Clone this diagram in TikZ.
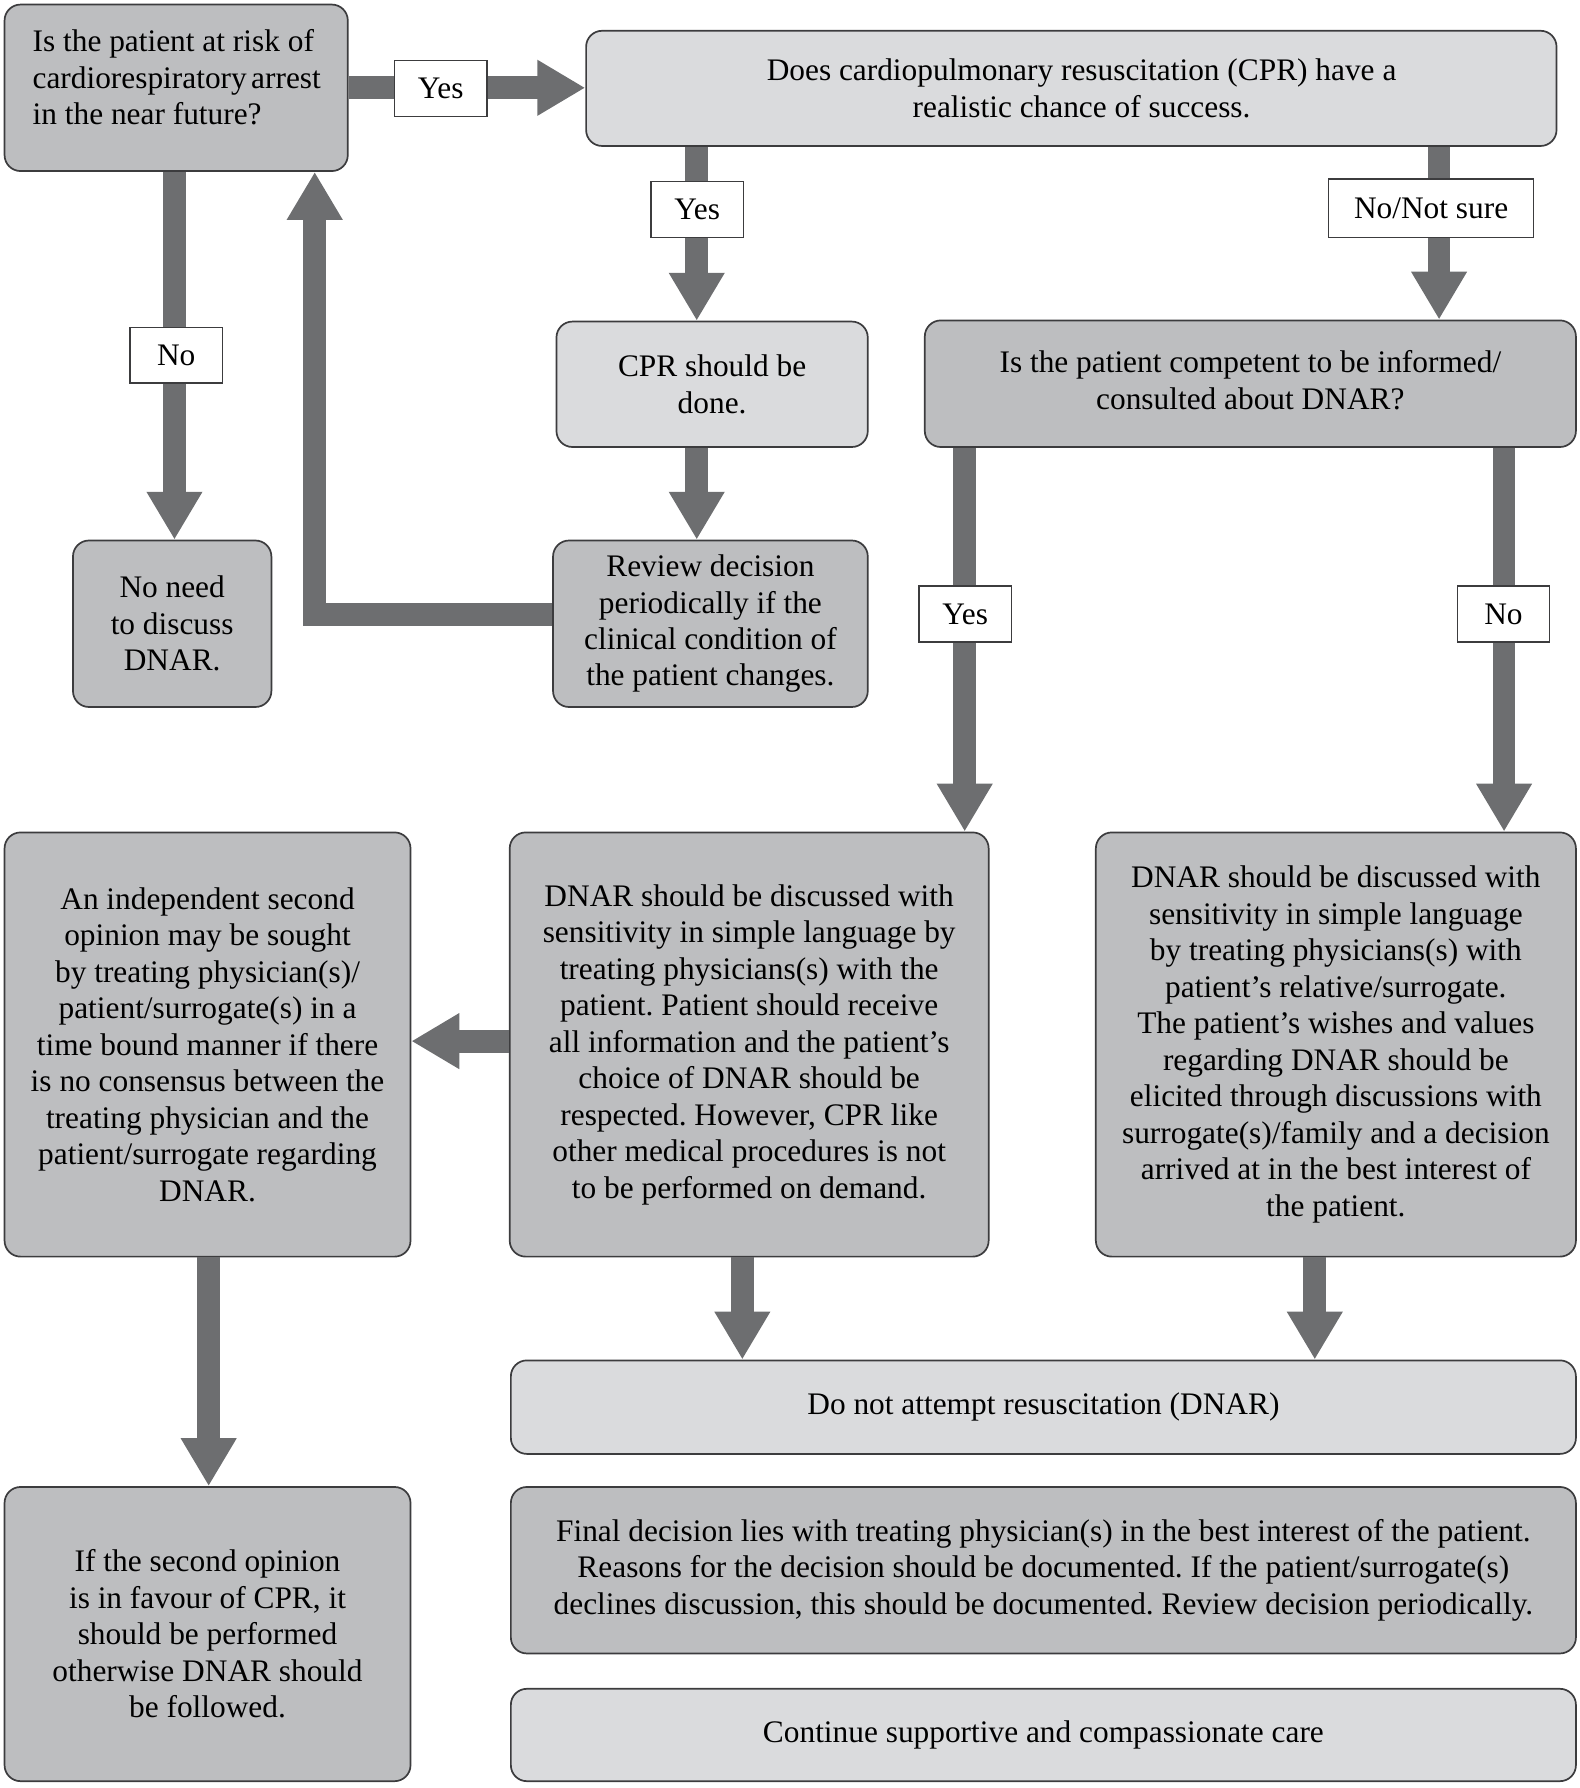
\documentclass[tikz,border=0pt]{standalone}
\usepackage{fontspec}
\setmainfont{Liberation Serif}
\usetikzlibrary{arrows.meta}
\definecolor{midgray}{RGB}{189,190,192}
\definecolor{lightgray2}{RGB}{218,219,221}
\definecolor{arrowgray}{RGB}{109,110,112}
\definecolor{edgegray}{RGB}{60,60,62}
\frenchspacing
\begin{document}
\begin{tikzpicture}[x=1pt,y=-1pt,
  txt/.style={font=\fontsize{27.5}{32}\selectfont, inner sep=0pt},
  box/.style={txt, draw=edgegray, line width=1.5pt, rounded corners=14pt, align=center},
  mid/.style={box, fill=midgray},
  light/.style={box, fill=lightgray2},
  lab/.style={txt, draw=edgegray, line width=1.2pt, fill=white, minimum width=81pt, minimum height=49pt},
  arr/.style={draw=arrowgray, line width=20pt, -{Triangle[width=46pt,length=42pt]}},
]
\useasboundingbox (0,0) rectangle (1385,1568);

% boxes
\node[mid, minimum width=301pt, minimum height=146pt] (A) at (154.5,77) {};
\node[txt, align=left] (At) at (155,68) {Is the patient at risk of\\cardiorespiratory\hspace{-3pt} arrest\\in the near future?};
\node[light, minimum width=851pt, minimum height=101pt] (B) at (939.5,77.5) {\hspace{18pt}Does cardiopulmonary resuscitation (CPR) have a\\\hspace{18pt}realistic chance of success.};
\node[light, minimum width=273pt, minimum height=110pt] (C) at (624.5,337) {CPR should be\\done.};
\node[mid, minimum width=276pt, minimum height=146pt] (D) at (623,547) {Review decision\\periodically if the\\clinical condition of\\the patient changes.};
\node[mid, minimum width=174pt, minimum height=146pt] (E) at (151,547) {No need\\to discuss\\DNAR.};
\node[mid, minimum width=571pt, minimum height=111pt] (F) at (1096.5,336.5) {\raisebox{8pt}{\begin{tabular}{@{}c@{}}Is the patient competent to be informed/\\consulted about DNAR?\end{tabular}}};
\node[mid, minimum width=420pt, minimum height=372pt] (G) at (657,916) {DNAR should be discussed with\\sensitivity in simple language by\\treating physicians(s) with the\\patient. Patient should receive\\all information and the patient’s\\choice of DNAR should be\\respected. However, CPR like\\other medical procedures is not\\to be performed on demand.};
\node[mid, minimum width=421pt, minimum height=372pt] (H) at (1171.5,916) {DNAR should be discussed with\\sensitivity in simple language\\by treating physicians(s) with\\patient’s relative/surrogate.\\The patient’s wishes and values\\regarding DNAR should be\\elicited through discussions with\\surrogate(s)/family and a decision\\arrived at in the best interest of\\the patient.};
\node[mid, minimum width=356pt, minimum height=372pt] (I) at (182,916) {An independent second\\opinion may be sought\\by treating physician(s)/\\patient/surrogate(s) in a\\time bound manner if there\\is no consensus between the\\treating physician and the\\patient/surrogate regarding\\DNAR.};
\node[light, minimum width=934pt, minimum height=82pt] (J) at (915,1234) {Do not attempt resuscitation (DNAR)};
\node[mid, minimum width=934pt, minimum height=146pt] (K) at (915,1377) {Final decision lies with treating physician(s) in the best interest of the patient.\\Reasons for the decision should be documented. If the patient/surrogate(s)\\declines discussion, this should be documented. Review decision periodically.};
\node[light, minimum width=934pt, minimum height=81pt] (L) at (915,1521.5) {Continue supportive and compassionate care};
\node[mid, minimum width=356pt, minimum height=258pt] (M) at (182,1433) {If the second opinion\\is in favour of CPR, it\\should be performed\\otherwise DNAR should\\be followed.};

% arrow guide coordinates
\coordinate (xbc) at (611,0);
\coordinate (xae) at (153,0);
\coordinate (xbf) at (1262,0);
\coordinate (xfg) at (846,0);
\coordinate (xfh) at (1319,0);
\coordinate (xgj) at (651,0);
\coordinate (xhj) at (1153,0);
\coordinate (xim) at (183,0);
\coordinate (ygi) at (0,913);
\coordinate (fb) at (276,539);

% arrows
\draw[arr] (A.east) -- (B.west |- A.east);
\draw[arr] (B.south -| xbc) -- (C.north -| xbc);
\draw[arr] (C.south -| xbc) -- (D.north -| xbc);
\draw[arr] (D.west |- fb) -- (fb) -- (A.south -| fb);
\draw[arr] (A.south -| xae) -- (E.north -| xae);
\draw[arr] (B.south -| xbf) -- (F.north -| xbf);
\draw[arr] (F.south -| xfg) -- (G.north -| xfg);
\draw[arr] (F.south -| xfh) -- (H.north -| xfh);
\draw[arr] (G.west |- ygi) -- (I.east |- ygi);
\draw[arr] (G.south -| xgj) -- (J.north -| xgj);
\draw[arr] (H.south -| xhj) -- (J.north -| xhj);
\draw[arr] (I.south -| xim) -- (M.north -| xim);

% labels
\node[lab] (l1) at (386.5,77.5) {Yes};
\node[lab] (l2) at (611.5,183.5) {Yes};
\node[lab] (l3) at (154.5,311.5) {No};
\node[lab, minimum width=180pt, minimum height=51pt] (l4) at (1255,182.5) {No/Not sure};
\node[lab] (l5) at (846.5,538.5) {Yes};
\node[lab] (l6) at (1318.5,538.5) {No};
\end{tikzpicture}
\end{document}
